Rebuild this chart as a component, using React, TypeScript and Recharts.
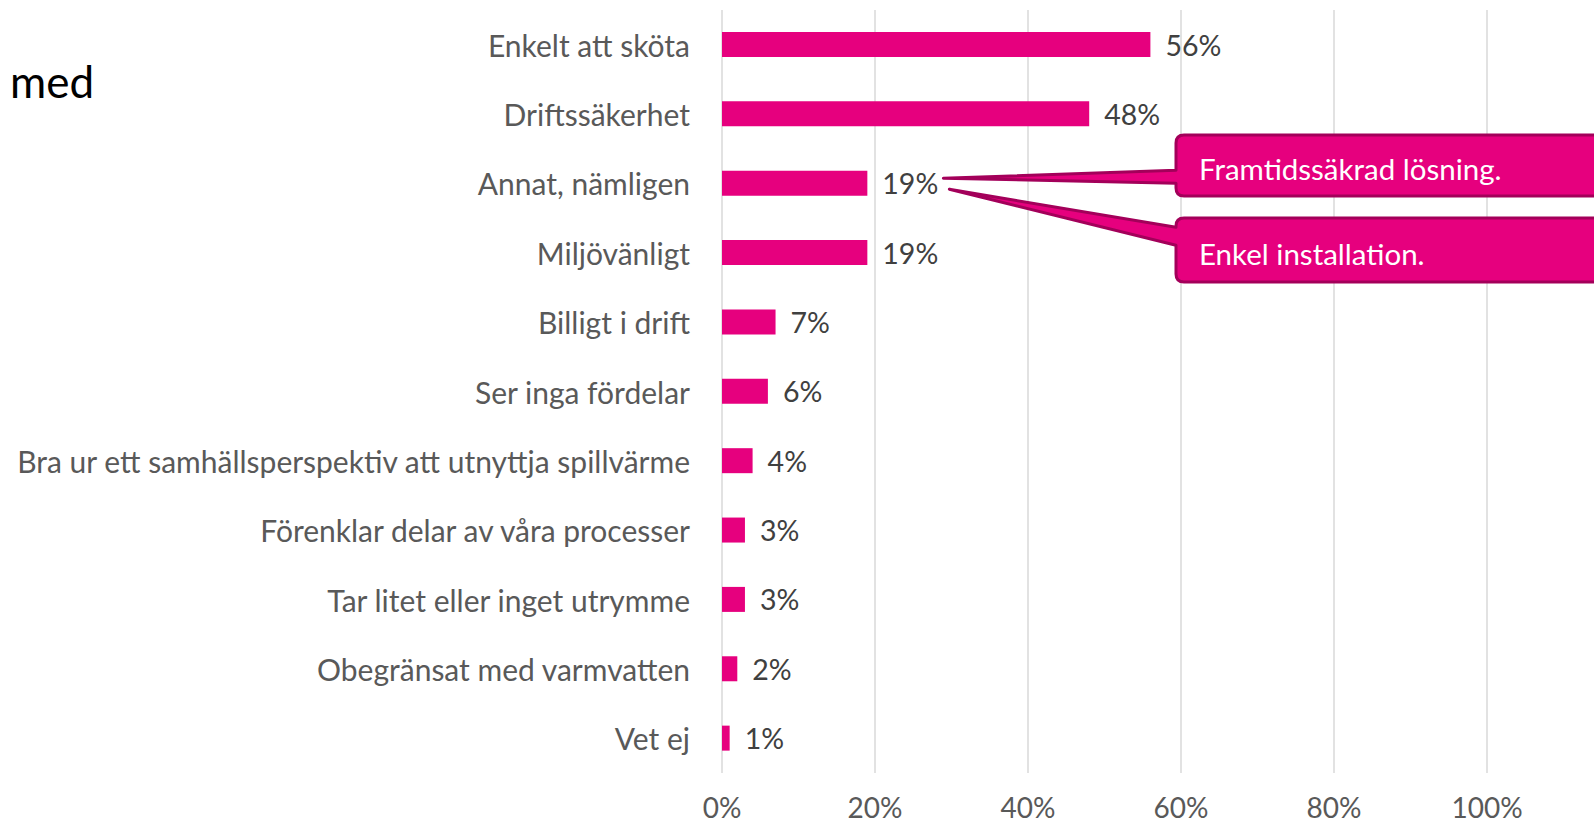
import React from "react";
import { Bar, BarChart, CartesianGrid, LabelList, XAxis, YAxis } from "recharts";

const categories = [
  "Enkelt att sköta",
  "Driftssäkerhet",
  "Annat, nämligen",
  "Miljövänligt",
  "Billigt i drift",
  "Ser inga fördelar",
  "Bra ur ett samhällsperspektiv att utnyttja spillvärme",
  "Förenklar delar av våra processer",
  "Tar litet eller inget utrymme",
  "Obegränsat med varmvatten",
  "Vet ej",
];
const shares = [56, 48, 19, 19, 7, 6, 4, 3, 3, 2, 1];
const xTicks = [0, 20, 40, 60, 80, 100];
const otherAnswers = ["Framtidssäkrad lösning.", "Enkel installation."];
const calloutRow = 2;

const data = categories.map((name, i) => ({ name, value: shares[i] }));

const FONT = "Lato, 'Noto Sans', sans-serif";
const PINK = "#E6007E";
const PINK_DARK = "#A3005A";

// callout box with pointer, drawn as one path
function calloutPath(left: number, top: number, bottom: number, b1: number, b2: number, tx: number, ty: number) {
  const r = 8;
  const right = left + 600;
  return [
    `M${left},${top + r}`,
    `L${left},${b1}`,
    `L${tx},${ty}`,
    `L${left},${b2}`,
    `L${left},${bottom - r}`,
    `Q${left},${bottom} ${left + r},${bottom}`,
    `L${right},${bottom}`,
    `L${right},${top}`,
    `L${left + r},${top}`,
    `Q${left},${top} ${left},${top + r}`,
    "Z",
  ].join(" ");
}

function BarValue(props: any) {
  const { x, y, width, height, value, index } = props;
  const lx = x + width + 15;
  const cy = y + height / 2;
  return (
    <g>
      <text x={lx} y={cy} dominantBaseline="central" fill="#404040" fontSize={28.5} fontFamily={FONT}>
        {value}%
      </text>
      {index === calloutRow && (
        <g>
          <path
            d={calloutPath(1176, 135, 196, cy - 13, cy, lx + 61, cy - 5)}
            fill={PINK}
            stroke={PINK_DARK}
            strokeWidth={3}
            strokeLinejoin="round"
          />
          <path
            d={calloutPath(1176, 218, 282, cy + 44, cy + 62, lx + 67, cy + 6)}
            fill={PINK}
            stroke={PINK_DARK}
            strokeWidth={3}
            strokeLinejoin="round"
          />
          <text x={1199} y={168} dominantBaseline="central" fill="#fff" fontSize={29.5} fontFamily={FONT}>
            {otherAnswers[0]}
          </text>
          <text x={1199} y={253} dominantBaseline="central" fill="#fff" fontSize={29.5} fontFamily={FONT}>
            {otherAnswers[1]}
          </text>
        </g>
      )}
    </g>
  );
}

function CategoryTick(props: any) {
  const { y, payload } = props;
  return (
    <text x={690} y={y} textAnchor="end" dominantBaseline="central" fill="#595959" fontSize={30} fontFamily={FONT}>
      {payload.value}
    </text>
  );
}

function PercentTick(props: any) {
  const { x, payload } = props;
  return (
    <text x={x} y={818} textAnchor="middle" fill="#595959" fontSize={28} fontFamily={FONT}>
      {payload.value}%
    </text>
  );
}

export default function App() {
  return (
    <div style={{ position: "relative", width: 1594, height: 825, overflow: "hidden", background: "#fff" }}>
      <style>{`body{margin:0;overflow:hidden}`}</style>
      <div
        style={{
          position: "absolute",
          left: 10,
          top: 56,
          fontFamily: FONT,
          fontSize: 44,
          color: "#000",
          lineHeight: "50px",
        }}
      >
        med
      </div>
      <BarChart
        width={1594}
        height={825}
        data={data}
        layout="vertical"
        margin={{ top: 10, right: 107, bottom: 0, left: 0 }}
        barCategoryGap={0}
      >
        <CartesianGrid horizontal={false} stroke="#d9d9d9" strokeWidth={1.5} />
        <XAxis
          type="number"
          domain={[0, 100]}
          ticks={xTicks}
          height={52}
          axisLine={false}
          tickLine={false}
          tick={<PercentTick />}
          interval={0}
        />
        <YAxis
          type="category"
          dataKey="name"
          width={722}
          axisLine={false}
          tickLine={false}
          tick={<CategoryTick />}
          interval={0}
        />
        <Bar dataKey="value" fill={PINK} barSize={25} isAnimationActive={false}>
          <LabelList dataKey="value" content={<BarValue />} />
        </Bar>
      </BarChart>
    </div>
  );
}
